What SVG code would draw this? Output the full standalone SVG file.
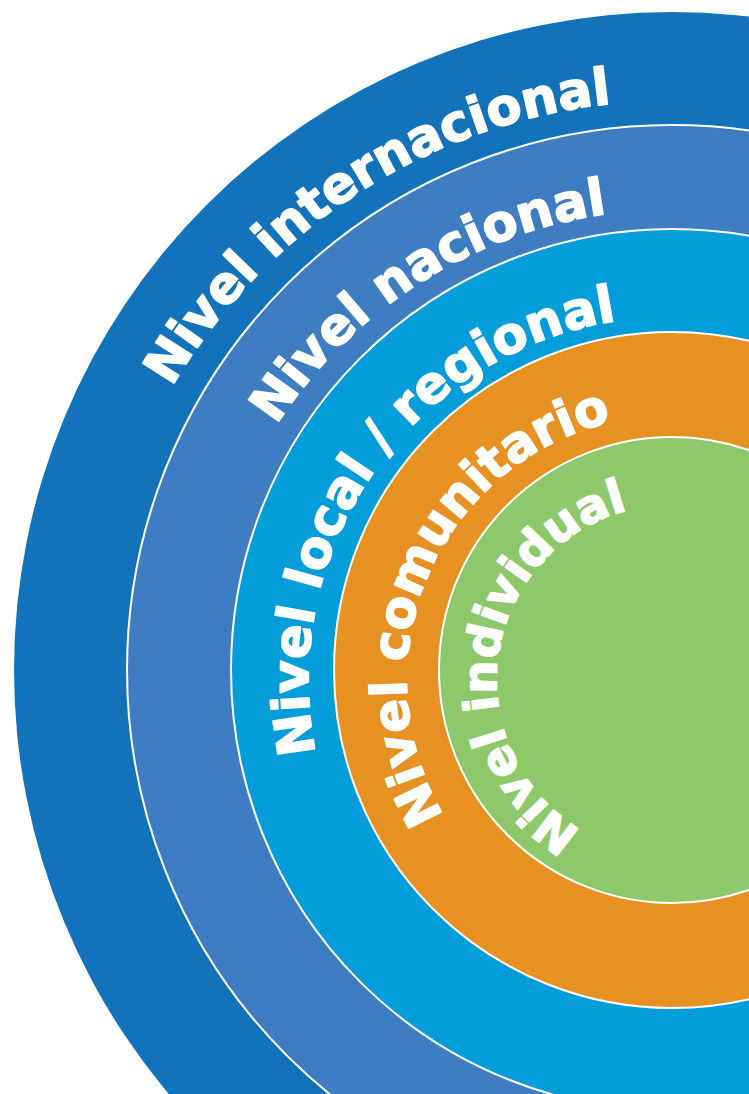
<svg xmlns="http://www.w3.org/2000/svg" xmlns:xlink="http://www.w3.org/1999/xlink" width="749" height="1094" viewBox="0 0 749 1094">
  <style>
    .ring { stroke: #ffffff; stroke-width: 2; }
    .lbl { font-family: "DejaVu Sans", "Liberation Sans", sans-serif; font-weight: bold; fill: #ffffff; stroke: #ffffff; stroke-width: 1.6; stroke-linejoin: round; }
  </style>
  <defs>
    <path id="p1" d="M 672 1259.5 A 579.5 579.5 0 0 1 92.5 680 A 579.5 579.5 0 0 1 672 100.5 A 579.5 579.5 0 0 1 1251.5 680"/>
    <path id="p2" d="M 672 1150.5 A 470.5 470.5 0 0 1 201.5 680 A 470.5 470.5 0 0 1 672 209.5 A 470.5 470.5 0 0 1 1142.5 680"/>
    <path id="p3" d="M 672 1043.5 A 363.5 363.5 0 0 1 308.5 680 A 363.5 363.5 0 0 1 672 316.5 A 363.5 363.5 0 0 1 1035.5 680"/>
    <path id="p4" d="M 672 945.3 A 265.3 265.3 0 0 1 406.7 680 A 265.3 265.3 0 0 1 672 414.7 A 265.3 265.3 0 0 1 937.3 680"/>
    <path id="p5" d="M 672 855.5 A 175.5 175.5 0 0 1 496.5 680 A 175.5 175.5 0 0 1 672 504.5 A 175.5 175.5 0 0 1 847.5 680"/>
  </defs>
  <rect width="749" height="1094" fill="#ffffff"/>
  <g id="internacional">
    <circle cx="672" cy="670" r="658" fill="#1273BA"/>
    <text class="lbl" font-size="51"><textPath xlink:href="#p1" href="#p1" startOffset="1217">Nivel internacional</textPath></text>
  </g>
  <g id="nacional">
    <circle class="ring" cx="672" cy="670" r="545" fill="#3E7DC1"/>
    <text class="lbl" font-size="51"><textPath xlink:href="#p2" href="#p2" startOffset="1008">Nivel nacional</textPath></text>
  </g>
  <g id="local">
    <circle class="ring" cx="672" cy="670" r="441" fill="#039DDA"/>
    <text class="lbl" font-size="51"><textPath xlink:href="#p3" href="#p3" startOffset="497">Nivel local / regional</textPath></text>
  </g>
  <g id="comunitario">
    <circle class="ring" cx="672" cy="670" r="338" fill="#E89123"/>
    <text class="lbl" font-size="50"><textPath xlink:href="#p4" href="#p4" startOffset="274">Nivel comunitario</textPath></text>
  </g>
  <g id="individual">
    <circle class="ring" cx="672" cy="670" r="233" fill="#8DC86B"/>
    <text class="lbl" font-size="47"><textPath xlink:href="#p5" href="#p5" startOffset="95">Nivel individual</textPath></text>
  </g>
  <g id="connectors"/>
</svg>
